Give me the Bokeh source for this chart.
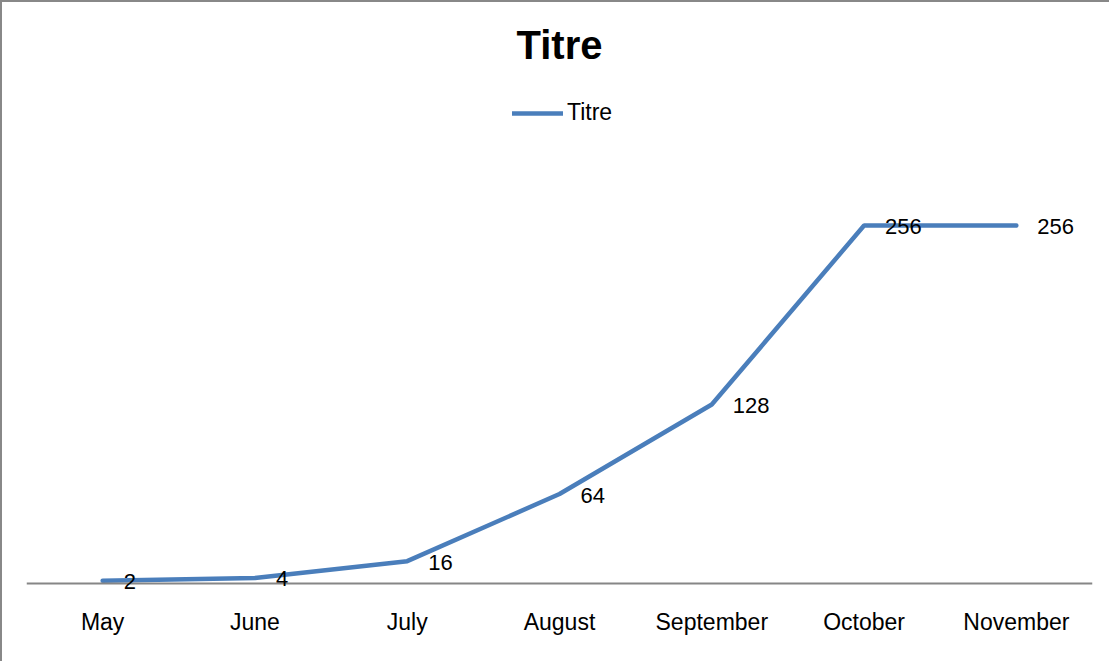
from bokeh.plotting import figure
from bokeh.models import Range1d, FactorRange, Label, LabelSet, Legend, LegendItem, ColumnDataSource
from bokeh.core.properties import value
from bokeh.embed import file_html
from bokeh.resources import INLINE

months = ["May", "June", "July", "August", "September", "October", "November"]
titre = [2, 4, 16, 64, 128, 256, 256]
point_labels = [str(v) for v in titre]
series_name = "Titre"
chart_title = "Titre"

src = ColumnDataSource(dict(x=months, y=titre, label=point_labels))

p = figure(width=1109, height=661, x_range=FactorRange(*months), y_range=Range1d(-57.2, 415.5),
           output_backend="svg", toolbar_location=None, y_axis_location=None,
           min_border_left=24, min_border_right=19, min_border_top=0, min_border_bottom=0)
p.outline_line_color = None
p.background_fill_color = "white"
p.border_fill_color = "white"
p.xgrid.visible = False
p.ygrid.visible = False
p.styles = {"border-left": "2px solid #888888", "border-top": "2px solid #888888"}

r = p.line("x", "y", source=src, line_color="#4A7EBB", line_width=4.5, line_cap="round")

labels = LabelSet(x="x", y="y", text="label", source=src, x_offset=21, y_offset=-1,
                  text_baseline="middle", text_align="left", text_font=value("Liberation Sans"),
                  text_font_size=value("22px"), text_color="#000000")
p.add_layout(labels)

ax = p.xaxis[0]
ax.fixed_location = 0
ax.axis_line_color = "#868686"
ax.axis_line_width = 2
ax.major_tick_line_color = None
ax.minor_tick_line_color = None
ax.major_tick_out = 0
ax.major_tick_in = 0
ax.major_label_standoff = 25
ax.major_label_text_font = "Liberation Sans"
ax.major_label_text_font_size = "23px"
ax.major_label_text_color = "#000000"

title = Label(x=3.5, y=385.4, text=chart_title, text_align="center", text_baseline="middle",
              text_font="Liberation Sans", text_font_size="40px", text_font_style="bold",
              text_color="#000000")
p.add_layout(title)

legend = Legend(items=[LegendItem(label=series_name, renderers=[r])], location=(486, 537),
                border_line_color=None, background_fill_alpha=0, padding=0, margin=0, spacing=0,
                glyph_width=51, glyph_height=24, label_height=24, label_standoff=4,
                label_text_font="Liberation Sans", label_text_font_size="23px",
                label_text_color="#000000")
p.add_layout(legend)

open("out.html", "w").write(file_html(p, INLINE))
